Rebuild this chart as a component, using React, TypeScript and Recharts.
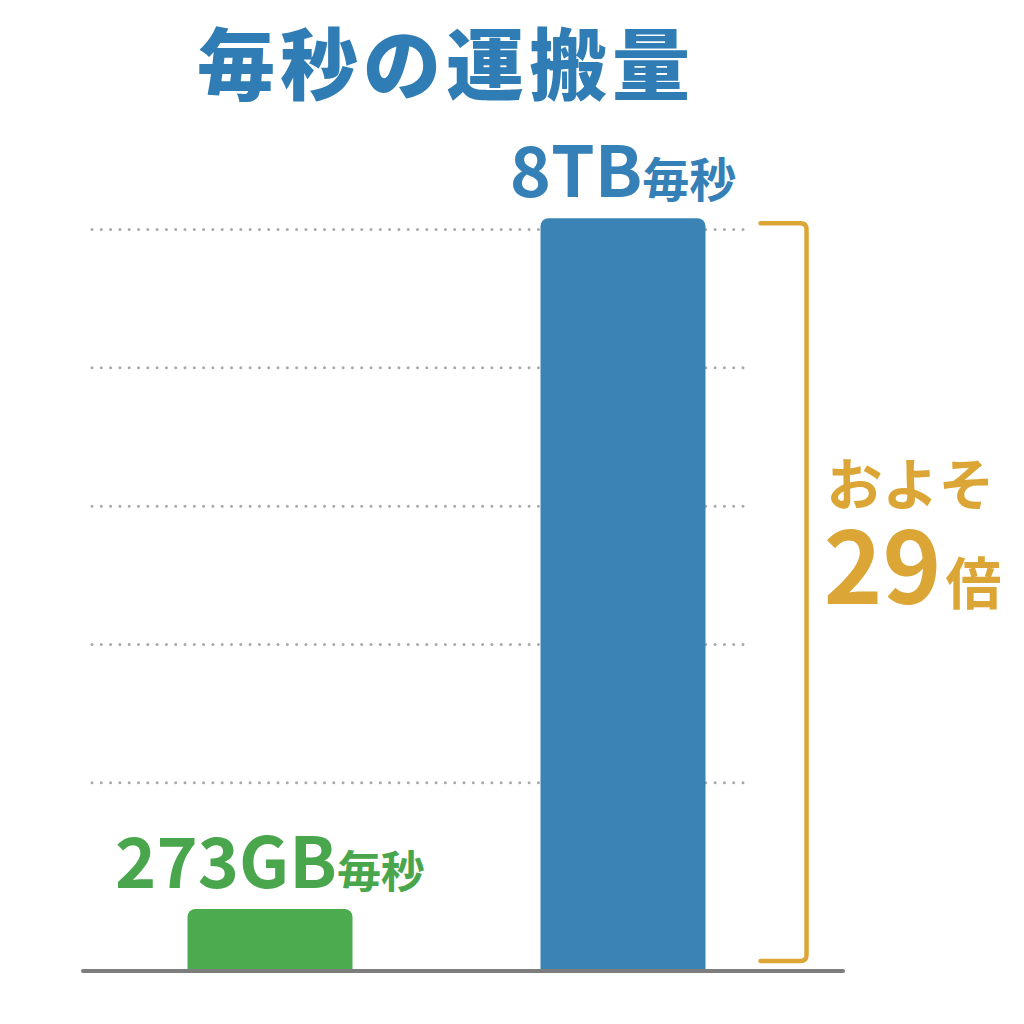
import React from 'react';
import { BarChart, Bar, XAxis, YAxis, CartesianGrid, ReferenceArea, Cell } from 'recharts';

const categories = ['273GB', '8TB'];
const barValues = [0.66, 8];
const valueNumbers = ['273GB', '8TB'];
const valueUnits = ['毎秒', '毎秒'];
const barColors = ['#4dab4f', '#3a84b5'];
const labelColors = ['#4aa64c', '#3580b6'];
const gridTicks = [2.0, 3.47, 4.94, 6.41, 7.88];
const titleText = '毎秒の運搬量';
const ratioPrefix = 'およそ';
const ratioNumber = '29';
const ratioSuffix = '倍';

const FONT = '"Noto Sans CJK JP", "Noto Sans", sans-serif';
const ORANGE = '#dca636';

const data = categories.map((c, i) => ({ name: c, value: barValues[i] }));

const renderLabel = (props: any) => {
  const { x, y, width, index } = props;
  return (
    <text
      x={x + width / 2}
      y={y - 21}
      textAnchor="middle"
      fill={labelColors[index]}
      fontFamily={FONT}
      fontWeight={700}
    >
      <tspan fontSize={70}>{valueNumbers[index]}</tspan>
      <tspan fontSize={index === 1 ? 47 : 44}>{valueUnits[index]}</tspan>
    </text>
  );
};

const gridLine = (props: any) => {
  const { x1, x2, y1, y2, key, y, height } = props;
  if (Math.abs(y1 - y) < 1 || Math.abs(y1 - (y + height)) < 1) {
    return <g key={key} />;
  }
  return (
    <line
      key={key}
      x1={x1 + 9}
      x2={x2 - 91}
      y1={y1}
      y2={y2}
      stroke="#a9a9a9"
      strokeWidth={3}
      strokeLinecap="round"
      strokeDasharray="0 9.3"
    />
  );
};

const bracketShape = (props: any) => {
  const { x, y, width, height } = props;
  const right = x + width + 7;
  const left = right - 46;
  const top = y + 5;
  const bottom = y + height - 10;
  const r = 6;
  const d = `M ${left} ${top} L ${right - r} ${top} Q ${right} ${top} ${right} ${top + r} L ${right} ${bottom - r} Q ${right} ${bottom} ${right - r} ${bottom} L ${left} ${bottom}`;
  const tx = right + 20;
  return (
    <g>
      <path d={d} fill="none" stroke={ORANGE} strokeWidth={4.5} strokeLinecap="round" strokeLinejoin="round" />
      <text x={tx} y={505} fill={ORANGE} fontFamily={FONT} fontWeight={700} fontSize={56}>
        {ratioPrefix}
      </text>
      <text x={tx - 3} y={604} fill={ORANGE} fontFamily={FONT} fontWeight={700}>
        <tspan fontSize={100}>{ratioNumber}</tspan>
        <tspan fontSize={56} dx={4}>{ratioSuffix}</tspan>
      </text>
    </g>
  );
};

export default function App() {
  return (
    <div style={{ position: 'absolute', left: 0, top: 0, width: 1024, height: 1024, background: '#ffffff' }}>
      <svg width={1024} height={120} style={{ position: 'absolute', left: 0, top: 0 }}>
        <text
          x={446}
          y={94}
          textAnchor="middle"
          fill="#2f7db4"
          fontFamily={FONT}
          fontWeight={900}
          fontSize={78}
          letterSpacing={5}
        >
          {titleText}
        </text>
      </svg>
      <div style={{ position: 'absolute', left: 0, top: 0 }}>
        <BarChart
          width={1024}
          height={1024}
          data={data}
          margin={{ top: 30, right: 181, bottom: 51, left: 83 }}
        >
          <CartesianGrid vertical={false} horizontal={gridLine} />
          <XAxis
            dataKey="name"
            height={2}
            tick={false}
            tickLine={false}
            axisLine={{ stroke: '#7d7d7d', strokeWidth: 4, strokeLinecap: 'round' }}
            padding={{ left: 10.5, right: 43.5 }}
          />
          <YAxis hide domain={[0, 10]} ticks={gridTicks} />
          <ReferenceArea y1={0} y2={8} fill="none" stroke="none" shape={bracketShape} />
          <Bar dataKey="value" barSize={165} radius={[8, 8, 0, 0]} isAnimationActive={false} label={renderLabel}>
            {data.map((d, i) => (
              <Cell key={d.name} fill={barColors[i]} />
            ))}
          </Bar>
        </BarChart>
      </div>
    </div>
  );
}
